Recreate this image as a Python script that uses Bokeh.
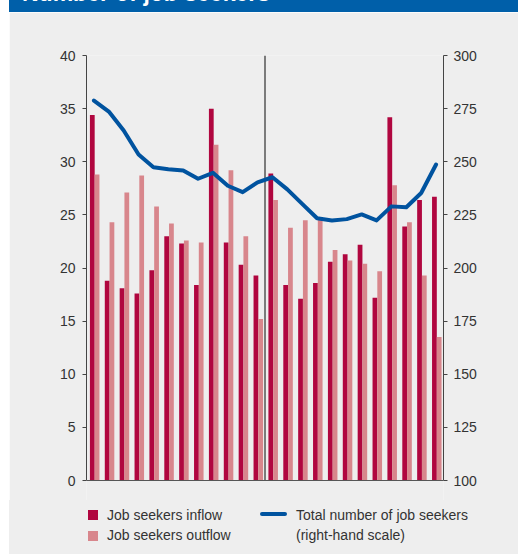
import numpy as np
from bokeh.plotting import figure
from bokeh.models import Range1d, LinearAxis, FixedTicker, Span, Label, Spacer, Div
from bokeh.layouts import row, column
from bokeh.embed import file_html
from bokeh.resources import INLINE

# ---------------- data ----------------
years = ["2007", "2008"]
months = list(range(24))  # Jan 2007 ... Dec 2008
inflow = [34.4, 18.8, 18.1, 17.6, 19.8, 23.0, 22.3, 18.4, 35.0, 22.4, 20.3, 19.3,
          28.9, 18.4, 17.1, 18.6, 20.6, 21.3, 22.2, 17.2, 34.2, 23.9, 26.4, 26.7]
outflow = [28.8, 24.3, 27.1, 28.7, 25.8, 24.2, 22.6, 22.4, 31.6, 29.2, 23.0, 15.2,
           26.4, 23.8, 24.5, 24.8, 21.7, 20.7, 20.4, 19.7, 27.8, 24.3, 19.3, 13.5]
total = [278.8, 273.6, 264.7, 253.4, 247.4, 246.5, 245.9, 242.0, 244.8, 238.7, 235.7, 240.3,
         242.7, 237.0, 230.2, 223.4, 222.4, 223.0, 225.2, 222.4, 229.0, 228.6, 235.3, 248.7]
left_ticks = [0, 5, 10, 15, 20, 25, 30, 35, 40]
right_ticks = [100, 125, 150, 175, 200, 225, 250, 275, 300]
legend_labels = ["Job seekers inflow", "Job seekers outflow",
                 "Total number of job seekers", "(right-hand scale)"]
title_text = "Number of job seekers"

# ---------------- styles / layout ----------------
FONT = "Liberation Sans"
BG = "#eeeeee"
INFLOW = "#b0063f"
OUTFLOW = "#d8868c"
BLUE = "#00539f"
BAR_BLUE = "#005fa9"
TXT = "#333333"
AX = "#444444"

W, H_TOP, H, H_LEG = 509, 12, 488, 54   # column of title strip / chart / legend, page x from 9
FX0, FX1 = 86, 443                      # frame left / right (page px)
FY_TOP, FY_ZERO = 55, 480               # page y of value 40 and of value 0
L0, L1, R0, R1 = 0, 40, 100, 300        # axis extents (left / right scale)
XMAX = len(months)


def px_y(py):
    return (FY_ZERO - py) / (FY_ZERO - FY_TOP) * (L1 - L0) + L0


y_bottom = px_y(H_TOP + H)           # frame runs down to the bottom of the chart figure
r_bottom = R0 + (y_bottom - L0) * (R1 - R0) / (L1 - L0)

m = np.array(months, dtype=float)
x_in = m + 0.39
x_out = m + 0.71
x_mid = m + 0.5

# ---------------- title strip (cropped at the top, as in the source) ----------------
title = Div(text=('<div style="position:relative; top:-18px; left:13px; color:white; '
                  "font:bold 23px/22px 'Liberation Sans', sans-serif; white-space:nowrap;\">"
                  + title_text + "</div>"),
            width=W, height=H_TOP, margin=0,
            styles={"background-color": BAR_BLUE, "overflow": "hidden"})

# ---------------- main chart ----------------
p = figure(width=W, height=H, x_range=Range1d(0, XMAX), y_range=Range1d(y_bottom, L1),
           x_axis_type=None, output_backend="svg", toolbar_location=None,
           min_border_left=FX0 - 9, min_border_right=518 - FX1,
           min_border_top=FY_TOP - H_TOP, min_border_bottom=0,
           background_fill_color=BG, border_fill_color=BG, outline_line_color=None)
p.xgrid.visible = False
p.ygrid.visible = False
p.extra_y_ranges = {"right": Range1d(r_bottom, R1)}

yl = p.yaxis[0]
yl.ticker = FixedTicker(ticks=left_ticks)
yl.bounds = (L0, L1)
ya = LinearAxis(y_range_name="right", ticker=FixedTicker(ticks=right_ticks), bounds=(R0, R1))
p.add_layout(ya, "right")
for ax, so in ((yl, 7), (ya, 6)):
    ax.axis_line_color = AX
    ax.major_tick_line_color = AX
    ax.minor_tick_line_color = None
    ax.major_tick_out = 4
    ax.major_tick_in = 0
    ax.major_label_standoff = so
    ax.major_label_text_font = FONT
    ax.major_label_text_font_size = "14px"
    ax.major_label_text_color = TXT

# baseline (x axis line) and the 2007 | 2008 divider
p.add_layout(Span(location=L0, dimension="width", line_color="#555555", line_width=1))
p.segment(x0=[XMAX // 2], y0=[L0], x1=[XMAX // 2], y1=[L1], line_color="#555555", line_width=1.5)

p.vbar(x=x_in, top=inflow, bottom=0, width=0.32, fill_color=INFLOW, line_color=None)
p.vbar(x=x_out, top=outflow, bottom=0, width=0.32, fill_color=OUTFLOW, line_color=None)
p.line(x=x_mid, y=total, y_range_name="right", line_color=BLUE, line_width=4,
       line_join="round", line_cap="round")

for i, yr in enumerate(years):
    p.add_layout(Label(x=XMAX / 4 + 0.25 + XMAX / 2 * i, y=px_y(42), text=yr,
                       text_align="center", text_baseline="middle", text_font=FONT,
                       text_font_size="14px", text_color=TXT))

# ---------------- legend (below the chart) ----------------
def box(left, top, w, h, color, radius=0):
    return (f'<div style="position:absolute; left:{left}px; top:{top}px; width:{w}px; '
            f'height:{h}px; background:{color}; border-radius:{radius}px;"></div>')


def txt(left, top, s):
    return (f'<div style="position:absolute; left:{left}px; top:{top}px; color:{TXT}; '
            f"font:14px/16px 'Liberation Sans', sans-serif; white-space:nowrap;\">{s}</div>")


leg_html = (box(79, 10, 10, 10, INFLOW) + box(79, 31, 10, 10, OUTFLOW)
            + box(251, 12, 27, 4, BLUE, 2)
            + txt(98, 7, legend_labels[0]) + txt(98, 27, legend_labels[1])
            + txt(287, 7, legend_labels[2]) + txt(287, 27, legend_labels[3]))
legend = Div(text=leg_html, width=W, height=H_LEG, margin=0,
             styles={"background-color": BG, "position": "relative", "overflow": "hidden"})

layout = row(Spacer(width=9, height=H_TOP + H + H_LEG), column(title, p, legend))
open("out.html", "w").write(file_html(layout, INLINE))
